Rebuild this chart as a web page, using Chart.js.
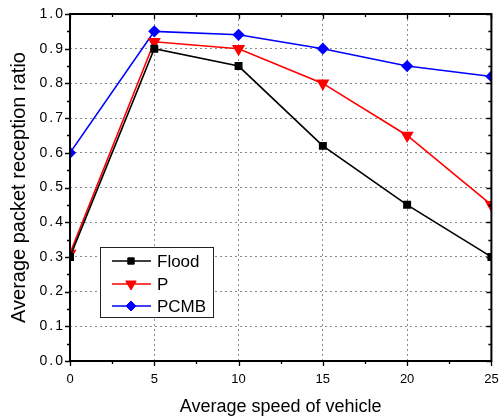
<!DOCTYPE html>
<html><head><meta charset="utf-8">
<script src="https://cdn.jsdelivr.net/npm/chart.js@4"></script>
<style>html,body{margin:0;padding:0;background:#fff;}#wrap{width:499px;height:417px;}</style>
</head><body><div id="wrap"><canvas id="c" width="499" height="417"></canvas></div>
<script>
const speeds = [0, 5, 10, 15, 20, 25];
const flood = [0.30, 0.90, 0.85, 0.62, 0.45, 0.30];
const pSeries = [0.31, 0.92, 0.90, 0.80, 0.65, 0.45];
const pcmb = [0.60, 0.95, 0.94, 0.90, 0.85, 0.82];
const seriesNames = ['Flood', 'P', 'PCMB'];
const xTitle = 'Average speed of vehicle';
const yTitle = 'Average packet reception ratio';

const FONT = '"Liberation Sans", Arial, sans-serif';
const toPts = arr => arr.map((v, i) => ({x: speeds[i], y: v}));

const frame = {
  id: 'frame',
  afterDraw(chart) {
    const ctx = chart.ctx, a = chart.chartArea, xs = chart.scales.x, ys = chart.scales.y;
    ctx.save();
    ctx.strokeStyle = '#000';
    ctx.lineWidth = 2;
    ctx.strokeRect(a.left, a.top, a.right - a.left, a.bottom - a.top);
    ctx.lineWidth = 1.3;
    ctx.beginPath();
    for (let i = 0; i <= 10; i++) {
      const v = i * 2.5;
      const px = Math.round(xs.getPixelForValue(v)) + 0.5;
      const L = (i % 2 === 0) ? 5 : 3;
      ctx.moveTo(px, a.bottom); ctx.lineTo(px, a.bottom + L);
      ctx.moveTo(px, a.top); ctx.lineTo(px, a.top + L);
    }
    for (let i = 0; i <= 20; i++) {
      const v = i * 0.05;
      const py = Math.round(ys.getPixelForValue(v)) + 0.5;
      const L = (i % 2 === 0) ? 5 : 3;
      ctx.moveTo(a.left, py); ctx.lineTo(a.left - L, py);
      ctx.moveTo(a.right, py); ctx.lineTo(a.right - L, py);
    }
    ctx.stroke();

    // legend
    const bx = 100, by = 247, bw = 113, bh = 70;
    ctx.fillStyle = '#fff';
    ctx.fillRect(bx, by, bw, bh);
    ctx.strokeStyle = '#222';
    ctx.lineWidth = 1;
    ctx.strokeRect(bx + 0.5, by + 0.5, bw, bh);
    const rows = [261, 284, 306];
    chart.data.datasets.forEach((ds, i) => {
      const y = rows[i];
      ctx.strokeStyle = ds.borderColor;
      ctx.lineWidth = 1.5;
      ctx.beginPath(); ctx.moveTo(112, y); ctx.lineTo(151, y); ctx.stroke();
      ctx.save();
      ctx.fillStyle = ds.pointBackgroundColor;
      ctx.strokeStyle = ds.pointBorderColor;
      ctx.lineWidth = 1;
      Chart.helpers.drawPoint(ctx, {pointStyle: ds.pointStyle, radius: ds.pointRadius, rotation: ds.pointRotation || 0, borderWidth: 1}, 131, y);
      ctx.restore();
      ctx.fillStyle = '#000';
      ctx.font = '17px ' + FONT;
      ctx.textBaseline = 'middle';
      ctx.textAlign = 'left';
      ctx.fillText(ds.label, 157, y + 1);
    });
    ctx.restore();
  }
};

const bg = {
  id: 'bg',
  beforeDraw(chart) {
    const ctx = chart.ctx;
    ctx.save(); ctx.fillStyle = '#fff'; ctx.fillRect(0, 0, chart.width, chart.height); ctx.restore();
  }
};

const chart = new Chart(document.getElementById('c'), {
  type: 'line',
  data: {
    datasets: [
      {label: seriesNames[0], data: toPts(flood), borderColor: '#000', backgroundColor: '#000', pointBackgroundColor: '#000', pointBorderColor: '#000', pointStyle: 'rect', pointRadius: 4.5, borderWidth: 1.6, clip: 0},
      {label: seriesNames[1], data: toPts(pSeries), borderColor: '#ff0000', backgroundColor: '#ff0000', pointBackgroundColor: '#ff0000', pointBorderColor: '#ff0000', pointStyle: 'triangle', pointRotation: 180, pointRadius: 6, borderWidth: 1.6, clip: 0},
      {label: seriesNames[2], data: toPts(pcmb), borderColor: '#0000ff', backgroundColor: '#0000ff', pointBackgroundColor: '#0000ff', pointBorderColor: '#0000ff', pointStyle: 'rectRot', pointRadius: 5, borderWidth: 1.6, clip: 0}
    ]
  },
  options: {
    responsive: false,
    animation: false,
    layout: {padding: {top: 14, right: 0, left: 0, bottom: 0}},
    plugins: {legend: {display: false}, tooltip: {enabled: false}},
    scales: {
      x: {
        type: 'linear', min: 0, max: 25,
        afterFit: s => { s.height = 56; s.paddingRight = 7; s.paddingLeft = 0; },
        ticks: {stepSize: 5, color: '#000', font: {family: FONT, size: 13}, padding: 11, maxRotation: 0},
        grid: {color: ctx => (ctx.tick && (ctx.tick.value === 0 || ctx.tick.value === 25)) ? 'rgba(0,0,0,0)' : '#8a8a8a', drawTicks: false, lineWidth: 1},
        border: {display: false, dash: [2, 3]},
        title: {display: true, text: xTitle, color: '#000', font: {family: FONT, size: 18, lineHeight: 1.1}, padding: {top: 6, bottom: 0}}
      },
      y: {
        min: 0, max: 1,
        afterFit: s => { s.width = 70; },
        ticks: {stepSize: 0.1, color: '#000', font: {family: FONT, size: 14}, padding: 5, callback: v => v.toFixed(1)},
        grid: {color: ctx => (ctx.tick && (Math.abs(ctx.tick.value) < 1e-9 || Math.abs(ctx.tick.value - 1) < 1e-9)) ? 'rgba(0,0,0,0)' : '#8a8a8a', drawTicks: false, lineWidth: 1},
        border: {display: false, dash: [2, 3]},
        title: {display: true, text: yTitle, color: '#000', font: {family: FONT, size: 20}, padding: {top: 7, bottom: 0}}
      }
    }
  },
  plugins: [bg, frame]
});

// widen y tick labels slightly (letter spacing) to match the reference look
const yScale = chart.scales.y;
const origDrawLabels = yScale.drawLabels;
yScale.drawLabels = function (area) {
  const c = this.ctx;
  c.save();
  c.letterSpacing = '2px';
  origDrawLabels.call(this, area);
  c.restore();
};
chart.draw();
</script></body></html>
